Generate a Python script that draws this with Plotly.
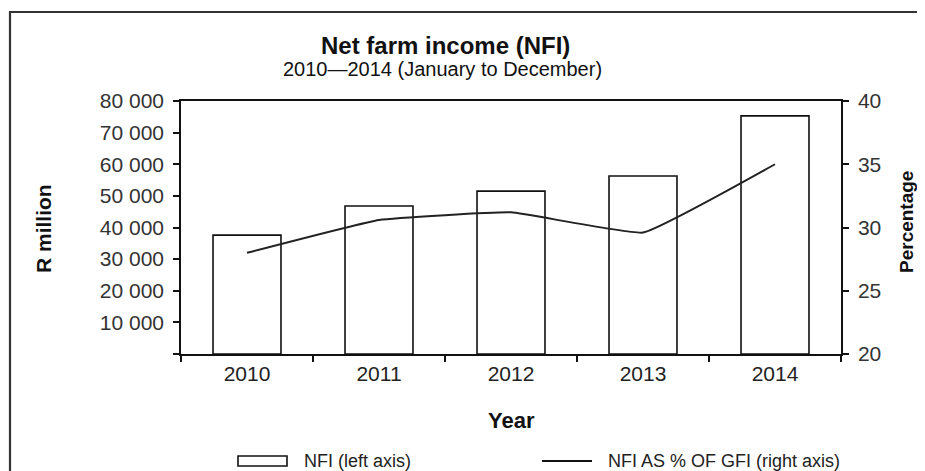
import plotly.graph_objects as go

years = ["2010", "2011", "2012", "2013", "2014"]
nfi = [37600, 46800, 51500, 56300, 75300]
pct_gfi = [28.0, 30.6, 31.2, 29.6, 35.0]
left_ticks = [0, 10000, 20000, 30000, 40000, 50000, 60000, 70000, 80000]
left_tick_text = ["", "10 000", "20 000", "30 000", "40 000", "50 000", "60 000", "70 000", "80 000"]
right_ticks = [20, 25, 30, 35, 40]

FONT = "Liberation Sans, Arial, sans-serif"
OFF = 8  # page body margin
PW, PH = 925, 471          # browser window
W, H = PW - OFF, PH - OFF  # figure fills the window
# plot area in page pixels: left 181, right 841, top 101, bottom 354
L = 181 - OFF
T = 101 - OFF
R = W - (841 - OFF)
B = H - (354 - OFF)
pw, ph = W - L - R, H - T - B

def px(x):
    return (x - OFF - L) / pw

def py(y):
    return (H - B - (y - OFF)) / ph

fig = go.Figure()
fig.add_trace(go.Bar(x=years, y=nfi, name="NFI (left axis)",
                     marker=dict(color="white", line=dict(color="#111", width=1.6)),
                     yaxis="y", showlegend=False))
fig.add_trace(go.Scatter(x=years, y=pct_gfi, name="NFI AS % OF GFI (right axis)",
                         mode="lines", line=dict(color="#222", width=2, shape="spline", smoothing=0.3),
                         yaxis="y2", showlegend=False))

axis_common = dict(showgrid=False, zeroline=False, showline=True, linecolor="#111", linewidth=1.5,
                   ticks="outside", ticklen=6, tickcolor="#111", tickwidth=1.5)

LEG_Y = 461

fig.update_layout(
    width=W, height=H,
    margin=dict(l=L, r=R, t=T, b=B, autoexpand=False),
    paper_bgcolor="white", plot_bgcolor="white",
    font=dict(family=FONT, size=21, color="#222"),
    bargap=0.485,
    xaxis=dict(type="category", mirror=True, tickson="boundaries",
               tickfont=dict(size=21, color="#222"), **axis_common),
    yaxis=dict(range=[0, 80000], tickvals=left_ticks, ticktext=left_tick_text,
               tickfont=dict(size=21, color="#333"), ticklabelstandoff=5, **axis_common),
    yaxis2=dict(range=[20, 40], tickvals=right_ticks, overlaying="y", side="right",
                tickfont=dict(size=21, color="#333"), ticklabelstandoff=5, **axis_common),
    shapes=[
        dict(type="rect", xref="paper", yref="paper", x0=px(10), x1=px(960), y0=py(500), y1=py(12),
             line=dict(color="#333", width=2.2), fillcolor="rgba(0,0,0,0)", layer="below"),
        dict(type="rect", xref="paper", yref="paper", x0=px(238), x1=px(287), y0=py(LEG_Y + 5), y1=py(LEG_Y - 5),
             line=dict(color="#111", width=1.6), fillcolor="white"),
        dict(type="line", xref="paper", yref="paper", x0=px(542), x1=px(592), y0=py(LEG_Y), y1=py(LEG_Y),
             line=dict(color="#111", width=2)),
    ],
    annotations=[
        dict(text="<b>Net farm income (NFI)</b>", xref="paper", yref="paper", x=px(445), y=py(46),
             showarrow=False, font=dict(size=24, color="#111"), xanchor="center", yanchor="middle"),
        dict(text="2010\u20142014 (January to December)", xref="paper", yref="paper", x=px(442), y=py(69),
             showarrow=False, font=dict(size=20, color="#111"), xanchor="center", yanchor="middle"),
        dict(text="<b>R million</b>", xref="paper", yref="paper", x=px(43), y=py(229), textangle=-90,
             showarrow=False, font=dict(size=21, color="#111"), xanchor="center", yanchor="middle"),
        dict(text="<b>Percentage</b>", xref="paper", yref="paper", x=px(906), y=py(222), textangle=-90,
             showarrow=False, font=dict(size=19, color="#111"), xanchor="center", yanchor="middle"),
        dict(text="<b>Year</b>", xref="paper", yref="paper", x=px(511), y=py(420),
             showarrow=False, font=dict(size=22, color="#111"), xanchor="center", yanchor="middle"),
        dict(text="NFI (left axis)", xref="paper", yref="paper", x=px(302), y=py(LEG_Y),
             showarrow=False, font=dict(size=18, color="#222"), xanchor="left", yanchor="middle"),
        dict(text="NFI AS % OF GFI (right axis)", xref="paper", yref="paper", x=px(606), y=py(LEG_Y),
             showarrow=False, font=dict(size=18, color="#222"), xanchor="left", yanchor="middle"),
    ],
)

fig.write_html("out.html")
